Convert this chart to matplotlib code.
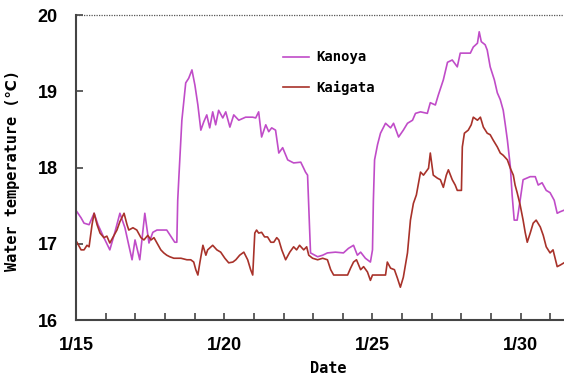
import matplotlib.pyplot as plt
from matplotlib.ticker import MultipleLocator, FuncFormatter

# Kanoya: day of January, water temperature
kanoya_day = [15.03, 15.17, 15.27, 15.44, 15.61, 15.74, 15.94, 16.14, 16.31, 16.48, 16.65, 16.78, 16.89,
              16.99, 17.15, 17.32, 17.46, 17.59, 17.73, 18.06, 18.33, 18.40, 18.43, 18.47, 18.57, 18.70,
              18.80, 18.91, 19.01, 19.11, 19.21, 19.31, 19.41, 19.51, 19.61, 19.71, 19.81, 19.95, 20.05,
              20.19, 20.32, 20.49, 20.72, 20.96, 21.06, 21.16, 21.26, 21.40, 21.50, 21.60, 21.73, 21.84,
              21.97, 22.14, 22.34, 22.58, 22.68, 22.74, 22.81, 22.88, 22.91, 23.15, 23.32, 23.48, 23.75,
              24.02, 24.19, 24.36, 24.49, 24.60, 24.76, 24.93, 25.00, 25.03, 25.07, 25.17, 25.27, 25.44,
              25.61, 25.71, 25.88, 26.04, 26.18, 26.35, 26.45, 26.62, 26.85, 26.95, 27.12, 27.22, 27.39,
              27.53, 27.69, 27.86, 27.96, 28.30, 28.40, 28.54, 28.60, 28.67, 28.80, 28.87, 28.97, 29.11,
              29.21, 29.31, 29.41, 29.48, 29.55, 29.65, 29.71, 29.78, 29.88, 29.98, 30.08, 30.32, 30.49,
              30.59, 30.72, 30.86, 30.99, 31.13, 31.23, 31.33, 31.46]
kanoya_temp = [17.42, 17.34, 17.27, 17.25, 17.40, 17.25, 17.08, 16.92, 17.15, 17.40, 17.21, 16.98, 16.79,
               17.05, 16.79, 17.40, 17.01, 17.15, 17.18, 17.18, 17.02, 17.02, 17.57, 17.88, 18.62, 19.11,
               19.17, 19.28, 19.08, 18.82, 18.49, 18.60, 18.69, 18.52, 18.73, 18.56, 18.75, 18.65, 18.73,
               18.53, 18.69, 18.62, 18.66, 18.66, 18.65, 18.73, 18.40, 18.56, 18.47, 18.52, 18.49, 18.19,
               18.26, 18.10, 18.06, 18.07, 17.99, 17.94, 17.90, 17.18, 16.88, 16.83, 16.85, 16.88, 16.89,
               16.88, 16.94, 16.98, 16.85, 16.89, 16.81, 16.76, 16.92, 17.57, 18.10, 18.30, 18.45, 18.58,
               18.52, 18.58, 18.40, 18.49, 18.58, 18.62, 18.71, 18.73, 18.71, 18.85, 18.82, 18.95, 19.15,
               19.38, 19.41, 19.32, 19.50, 19.50, 19.58, 19.63, 19.78, 19.65, 19.61, 19.54, 19.32, 19.15,
               18.98, 18.89, 18.75, 18.56, 18.36, 18.01, 17.64, 17.31, 17.31, 17.57, 17.84, 17.88, 17.88,
               17.77, 17.80, 17.70, 17.67, 17.57, 17.40, 17.42, 17.44]

# Kaigata
kaigata_day = [15.03, 15.17, 15.27, 15.37, 15.44, 15.54, 15.61, 15.71, 15.81, 15.94, 16.04, 16.14, 16.28,
               16.38, 16.48, 16.62, 16.72, 16.78, 16.92, 17.05, 17.19, 17.29, 17.42, 17.53, 17.63, 17.73,
               17.86, 17.96, 18.06, 18.16, 18.30, 18.40, 18.54, 18.74, 18.87, 18.97, 19.04, 19.11, 19.18,
               19.28, 19.38, 19.44, 19.55, 19.61, 19.75, 19.88, 20.02, 20.15, 20.29, 20.39, 20.52, 20.66,
               20.79, 20.89, 20.96, 21.03, 21.09, 21.16, 21.26, 21.36, 21.46, 21.57, 21.67, 21.77, 21.84,
               21.94, 22.07, 22.21, 22.34, 22.44, 22.54, 22.68, 22.78, 22.85, 22.98, 23.15, 23.32, 23.48,
               23.59, 23.69, 23.92, 24.16, 24.26, 24.36, 24.46, 24.60, 24.70, 24.83, 24.93, 25.00, 25.20,
               25.44, 25.50, 25.61, 25.74, 25.84, 25.94, 26.04, 26.11, 26.18, 26.28, 26.38, 26.48, 26.62,
               26.72, 26.89, 26.95, 27.05, 27.19, 27.29, 27.39, 27.49, 27.56, 27.69, 27.79, 27.86, 28.00,
               28.03, 28.10, 28.23, 28.33, 28.40, 28.54, 28.64, 28.74, 28.87, 28.97, 29.07, 29.21, 29.31,
               29.41, 29.55, 29.65, 29.75, 29.81, 29.88, 29.98, 30.08, 30.15, 30.22, 30.32, 30.42, 30.52,
               30.66, 30.76, 30.86, 30.99, 31.09, 31.23, 31.33, 31.46]
kaigata_temp = [17.02, 16.92, 16.92, 16.98, 16.96, 17.25, 17.40, 17.25, 17.14, 17.08, 17.10, 17.01, 17.11,
                17.18, 17.29, 17.40, 17.25, 17.18, 17.21, 17.18, 17.08, 17.05, 17.11, 17.05, 17.08, 17.01,
                16.92, 16.88, 16.85, 16.83, 16.81, 16.81, 16.81, 16.79, 16.79, 16.76, 16.66, 16.59, 16.76,
                16.98, 16.85, 16.92, 16.96, 16.98, 16.92, 16.89, 16.81, 16.75, 16.76, 16.79, 16.85, 16.89,
                16.79, 16.66, 16.59, 17.14, 17.18, 17.14, 17.15, 17.09, 17.09, 17.02, 17.02, 17.08, 17.05,
                16.92, 16.79, 16.89, 16.96, 16.92, 16.98, 16.92, 16.96, 16.85, 16.81, 16.79, 16.81, 16.79,
                16.66, 16.59, 16.59, 16.59, 16.68, 16.76, 16.79, 16.66, 16.70, 16.63, 16.52, 16.59, 16.59,
                16.59, 16.76, 16.68, 16.66, 16.55, 16.43, 16.56, 16.72, 16.88, 17.31, 17.53, 17.64, 17.94,
                17.90, 17.99, 18.19, 17.90, 17.86, 17.84, 17.74, 17.90, 17.97, 17.84, 17.77, 17.70, 17.70,
                18.27, 18.45, 18.49, 18.56, 18.66, 18.62, 18.66, 18.53, 18.45, 18.43, 18.36, 18.27, 18.19,
                18.16, 18.10, 17.99, 17.90, 17.77, 17.67, 17.51, 17.31, 17.15, 17.02, 17.14, 17.27, 17.31,
                17.22, 17.11, 16.96, 16.88, 16.92, 16.70, 16.72, 16.75]

date_labels = {15: '1/15', 20: '1/20', 25: '1/25', 30: '1/30'}

tick_font = ['Liberation Sans', 'DejaVu Sans']
mono_font = ['DejaVu Sans Mono', 'DejaVu Sans']

fig = plt.figure(figsize=(5.64, 3.78), dpi=100)
ax = fig.add_axes([0.1348, 0.1534, 0.8936, 0.8069])

ax.plot(kanoya_day, kanoya_temp, color='#c04cc8', lw=1.2, label='Kanoya')
ax.plot(kaigata_day, kaigata_temp, color='#a8322a', lw=1.2, label='Kaigata')

ax.set_xlim(15, 32)
ax.set_ylim(16, 20)
ax.xaxis.set_major_locator(MultipleLocator(1))
ax.xaxis.set_major_formatter(FuncFormatter(lambda v, p: date_labels.get(int(round(v)), '')))
ax.yaxis.set_major_locator(MultipleLocator(1))
ax.tick_params(direction='in', length=5, width=1.2, color='#444444')
ax.tick_params(axis='x', pad=12)
ax.tick_params(axis='y', pad=13)
for lab in ax.get_xticklabels() + ax.get_yticklabels():
    lab.set_family(tick_font)
    lab.set_fontweight('bold')
    lab.set_fontsize(13)

ax.spines['top'].set_visible(False)
ax.spines['right'].set_visible(False)
for s in ['left', 'bottom']:
    ax.spines[s].set_color('#444444')
    ax.spines[s].set_linewidth(1.5)
ax.axhline(20, color='#555555', lw=0.9, ls=(0, (1, 1)), clip_on=False)

ax.set_ylabel('Water temperature (℃)', family=mono_font, fontweight='bold', fontsize=11)
ax.yaxis.set_label_coords(-0.111, 0.49)
ax.set_xlabel('Date', family=mono_font, fontweight='bold', fontsize=11, labelpad=5)

leg = ax.legend(loc='upper left', bbox_to_anchor=(0.385, 0.925), frameon=False, handlelength=1.9,
                handletextpad=0.5, labelspacing=1.2,
                prop={'family': mono_font, 'weight': 'bold', 'size': 10})

fig.savefig('out.png', dpi=100)
